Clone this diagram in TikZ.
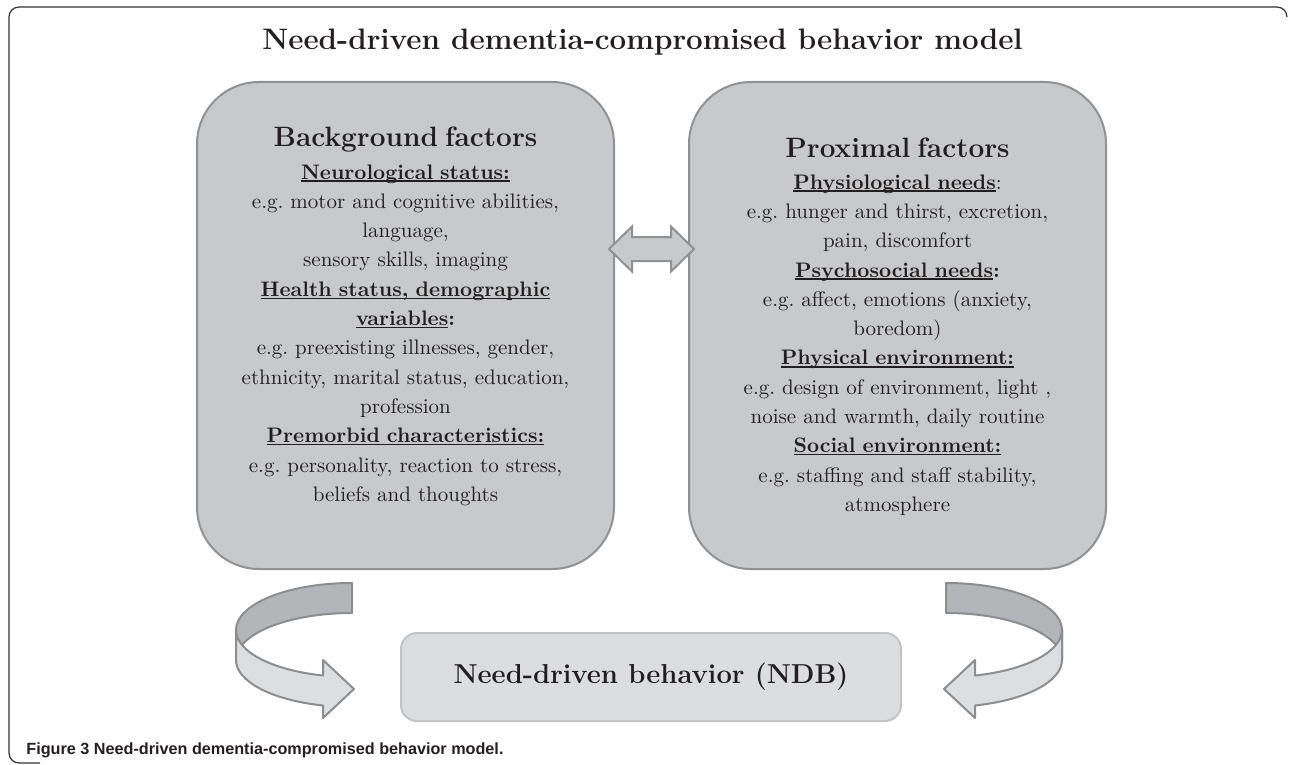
\documentclass[tikz,border=0pt]{standalone}
\usepackage{fontspec}
\setsansfont{Liberation Sans}
\usepackage{tikz}
\usetikzlibrary{shapes,arrows,calc}
\frenchspacing
\definecolor{boxfill}{HTML}{C8C9CB}
\definecolor{boxline}{HTML}{909193}
\definecolor{ndbfill}{HTML}{DCDDDF}
\definecolor{ndbline}{HTML}{C2C3C5}
\definecolor{arrowdark}{HTML}{B4B5B8}
\definecolor{arrowlight}{HTML}{DDDEE0}
\definecolor{arrowline}{HTML}{8C8D8F}
\definecolor{textcol}{HTML}{231F20}
\newcommand{\undl}[1]{\setbox0\hbox{#1}\rlap{\rule[-1.3pt]{\wd0}{0.6pt}}\box0}
\tikzstyle{factorbox} = [draw=boxline, fill=boxfill, line width=1pt, rounded corners=31pt, minimum width=208.5pt, minimum height=243.5pt]
\tikzstyle{factortext} = [text=textcol, text width=205pt, align=center, inner sep=0pt, font={\fontsize{10.5}{14.65}\selectfont}]
\tikzstyle{headtext} = [text=textcol, inner sep=0pt, font={\fontsize{14.8}{17}\selectfont\bfseries}]
\tikzstyle{ndbbox} = [draw=ndbline, fill=ndbfill, line width=1pt, rounded corners=8pt, minimum width=250pt, minimum height=44pt, text=textcol, font={\fontsize{13.7}{16}\selectfont\bfseries}]
\tikzstyle{linkarrow} = [draw=boxline, fill=boxfill, line width=1pt, line join=miter]
\tikzstyle{band} = [draw=arrowline, line width=1pt, line join=round]
\tikzstyle{captiontext} = [text=textcol, inner sep=0pt, font={\fontsize{8.1}{10}\selectfont\sffamily\bfseries}]
\tikzstyle{frameline} = [draw=black!80, line width=0.6pt]
\newcommand{\heading}[1]{{\fontsize{14}{14.65}\selectfont\bfseries #1}}

\begin{document}
\begin{tikzpicture}[x=0.5pt, y=-0.5pt, node distance=246pt]
    \useasboundingbox (0,0) rectangle (1290,765);
    \draw[frameline, rounded corners=5pt] (1287,17) -- (1287,7) -- (9,7) -- (9,763) -- (40,763);
    \node[headtext, anchor=base] (title) at (642.5,50) {Need-driven dementia-compromised behavior model};

    % the two factor boxes
    \node[factorbox] (bg) at (405.5,325.5) {};
    \node[factorbox, right of=bg] (prox) {};
    \node[factortext, anchor=north] (bgtext) at ([yshift=-23pt]bg.north) {%
        \heading{Background factors}\\[1.4pt]
        \textbf{\undl{Neurological status:}}\\
        e.g. motor and cognitive abilities,\\
        language,\\
        sensory skills, imaging\\
        \textbf{\undl{Health status, demographic}}\\
        \textbf{\undl{variables}:}\\
        e.g. preexisting illnesses, gender,\\
        ethnicity, marital status, education,\\
        profession\\
        \textbf{\undl{Premorbid characteristics:}}\\
        e.g. personality, reaction to stress,\\
        beliefs and thoughts};
    \node[factortext, anchor=north] (proxtext) at ([yshift=-28pt]prox.north) {%
        \heading{Proximal factors}\\[1.4pt]
        \textbf{\undl{Physiological needs}}:\\
        e.g. hunger and thirst, excretion,\\
        pain, discomfort\\
        \textbf{\undl{Psychosocial needs}:}\\
        e.g. affect, emotions (anxiety,\\
        boredom)\\
        \textbf{\undl{Physical environment:}}\\
        e.g. design of environment, light ,\\
        noise and warmth, daily routine\\
        \textbf{\undl{Social environment:}}\\
        e.g. staffing and staff stability,\\
        atmosphere};

    % double arrow between the boxes
    \coordinate (link) at ($(bg.east)!0.5!(prox.west)+(0,-76.5)$);
    \draw[linkarrow] ($(link)+(-42.5,0)$) -- ++(23,-22.5) -- ++(0,10.5) -- ++(39,0) -- ++(0,-10.5)
        -- ++(23,22.5) -- ++(-23,22.5) -- ++(0,-10.5) -- ++(-39,0) -- ++(0,10.5) -- cycle;

    \node[ndbbox] (ndb) at (651,677) {Need-driven behavior (NDB)};

    % bent arrows into the NDB box
    \begin{scope}
        \path[band, fill=arrowdark] (352,583) arc[start angle=270, end angle=180, x radius=116, y radius=47]
            -- (236,660) arc[start angle=180, end angle=270, x radius=116, y radius=47] -- cycle;
        \path[band, fill=arrowlight] (236,630) arc[start angle=180, end angle=104.48, x radius=116, y radius=47]
            -- (323,660) -- (354,689) -- (323,718) -- (323,705.5)
            arc[start angle=104.48, end angle=180, x radius=116, y radius=47] -- cycle;
    \end{scope}
    \begin{scope}[shift={(1298,0)}, xscale=-1]
        \path[band, fill=arrowdark] (352,583) arc[start angle=270, end angle=180, x radius=116, y radius=47]
            -- (236,660) arc[start angle=180, end angle=270, x radius=116, y radius=47] -- cycle;
        \path[band, fill=arrowlight] (236,630) arc[start angle=180, end angle=104.48, x radius=116, y radius=47]
            -- (323,660) -- (354,689) -- (323,718) -- (323,705.5)
            arc[start angle=104.48, end angle=180, x radius=116, y radius=47] -- cycle;
    \end{scope}

    \node[captiontext, anchor=base west] (caption) at (26,754) {Figure 3 Need-driven dementia-compromised behavior model.};
\end{tikzpicture}
\end{document}
